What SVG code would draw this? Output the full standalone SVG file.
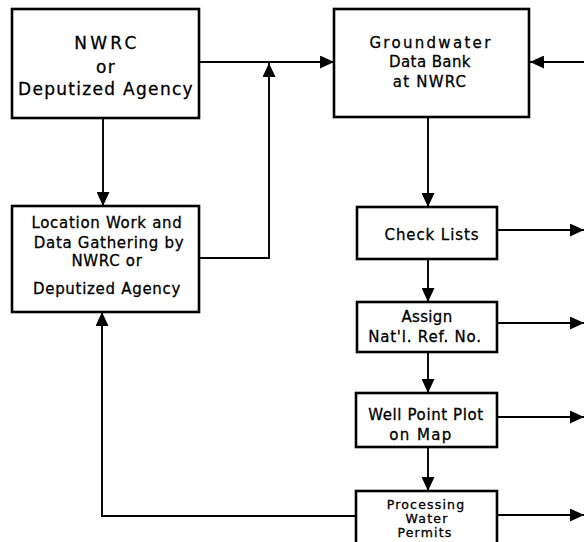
<svg xmlns="http://www.w3.org/2000/svg" width="584" height="542" viewBox="0 0 584 542">
  <defs>
    <marker id="arrow" viewBox="0 0 14 13" refX="14" refY="6.5" markerWidth="14" markerHeight="13" markerUnits="userSpaceOnUse" orient="auto">
      <path d="M0,0 L14,6.5 L0,13 z" fill="#000"/>
    </marker>
    <style>
      .box { fill: #fff; stroke: #000; stroke-width: 2.6; }
      .lbl { font-family: "DejaVu Sans", "Liberation Sans", sans-serif; font-size: 15px; fill: #000; stroke: #000; stroke-width: 0.3px; text-anchor: middle; letter-spacing: 0.7px; }
      .big { font-size: 17px; letter-spacing: 1.3px; }
      .small { font-size: 12.5px; letter-spacing: 1.2px; }
      .wire { fill: none; stroke: #000; stroke-width: 1.9; }
      .arr { marker-end: url(#arrow); }
    </style>
  </defs>

  <!-- connectors -->
  <g id="connectors">
    <path class="wire arr" d="M199,62 L334,62"/>
    <path class="wire arr" d="M199,258 L269,258 L269,63"/>
    <path class="wire arr" d="M103,118 L103,206"/>
    <path class="wire arr" d="M584,62 L530,62"/>
    <path class="wire arr" d="M428,117 L428,207"/>
    <path class="wire arr" d="M428,259 L428,302"/>
    <path class="wire arr" d="M428,352 L428,393"/>
    <path class="wire arr" d="M428,447 L428,491"/>
    <path class="wire arr" d="M497,230 L584,230"/>
    <path class="wire arr" d="M497,323 L584,323"/>
    <path class="wire arr" d="M497,417 L584,417"/>
    <path class="wire arr" d="M497,515 L584,515"/>
    <path class="wire arr" d="M356,516 L102,516 L102,312"/>
  </g>

  <g id="agency">
    <rect class="box" x="12" y="9" width="187" height="109"/>
    <text class="lbl big" x="107" y="49" style="letter-spacing:3.3px">NWRC</text>
    <text class="lbl big" x="106" y="73">or</text>
    <text class="lbl big" x="106" y="95">Deputized Agency</text>
  </g>

  <g id="databank">
    <rect class="box" x="334" y="9" width="195" height="108"/>
    <text class="lbl" x="431" y="48" style="letter-spacing:2.3px">Groundwater</text>
    <text class="lbl" x="430" y="67" style="letter-spacing:0.4px">Data Bank</text>
    <text class="lbl" x="430" y="87" style="letter-spacing:1.2px">at NWRC</text>
  </g>

  <g id="fieldwork">
    <rect class="box" x="12" y="206" width="187" height="106"/>
    <text class="lbl" x="107" y="228">Location Work and</text>
    <text class="lbl" x="109" y="248">Data Gathering by</text>
    <text class="lbl" x="107" y="266">NWRC or</text>
    <text class="lbl" x="107" y="294">Deputized Agency</text>
  </g>

  <g id="checklists">
    <rect class="box" x="357" y="207" width="140" height="52"/>
    <text class="lbl" x="432" y="240" style="letter-spacing:0.9px">Check Lists</text>
  </g>

  <g id="refno">
    <rect class="box" x="357" y="302" width="140" height="50"/>
    <text class="lbl" x="427" y="322" style="letter-spacing:0.3px">Assign</text>
    <text class="lbl" x="425" y="342" style="letter-spacing:0.8px">Nat'l. Ref. No.</text>
  </g>

  <g id="wellplot">
    <rect class="box" x="356" y="393" width="141" height="54"/>
    <text class="lbl" x="426" y="420" style="letter-spacing:0.6px">Well Point Plot</text>
    <text class="lbl" x="421" y="440" style="letter-spacing:1.4px">on Map</text>
  </g>

  <g id="permits">
    <rect class="box" x="356" y="491" width="141" height="60"/>
    <text class="lbl small" x="426" y="509">Processing</text>
    <text class="lbl small" x="427" y="523">Water</text>
    <text class="lbl small" x="425" y="537">Permits</text>
  </g>
</svg>
